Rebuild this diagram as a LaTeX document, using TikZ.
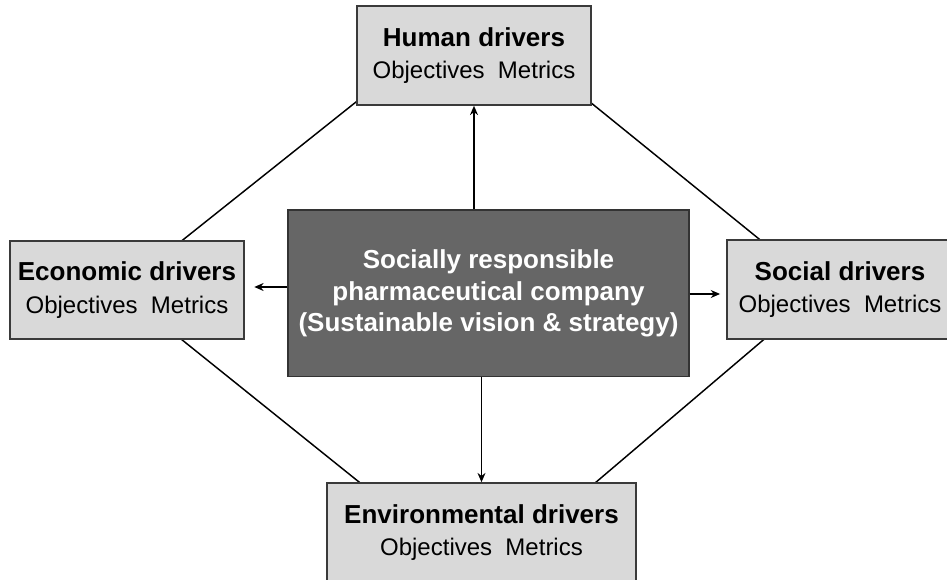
\documentclass[tikz,border=0pt]{standalone}
\usepackage{fontspec}
\setmainfont{Liberation Sans}
\usetikzlibrary{arrows.meta,backgrounds}
\definecolor{boxgray}{HTML}{D9D9D9}
\definecolor{coregray}{HTML}{666666}
\definecolor{edgegray}{HTML}{3A3A3A}
\begin{document}
\begin{tikzpicture}[
  x=0.75pt, y=-0.75pt,
  driver/.style={rectangle, draw=edgegray, line width=1.4pt, fill=boxgray,
    minimum height=74pt, inner sep=0pt, align=center,
    font=\fontsize{18}{24.5}\selectfont},
  core/.style={rectangle, draw=black!80, line width=1pt, fill=coregray,
    text=white, minimum width=300.75pt, minimum height=125pt, inner sep=0pt,
    align=center, font=\bfseries\fontsize{19.5}{23.8}\selectfont},
  link/.style={line width=1.1pt, -{Stealth[length=7pt,width=6pt]}},
  frame/.style={line width=1.1pt}
]
\useasboundingbox (0,0) rectangle (947,580);
\node[core] (core) at (488.5,293.5) {Socially responsible\\pharmaceutical company\\(Sustainable vision \& strategy)};
\node[driver, minimum width=175.5pt] (human) at (474,55.5) {{\bfseries\fontsize{19.5}{24.5}\selectfont Human drivers}\\Objectives\ \ Metrics};
\node[driver, minimum width=175.5pt] (econ) at (127,290) {{\bfseries\fontsize{19.5}{24.5}\selectfont Economic drivers}\\Objectives\ \ Metrics};
\node[driver, minimum width=169.5pt] (social) at (840,289.5) {{\bfseries\fontsize{19.5}{24.5}\selectfont Social drivers}\\Objectives\ \ Metrics};
\node[driver, minimum width=231.75pt] (env) at (481.5,532.5) {{\bfseries\fontsize{19.5}{24.5}\selectfont Environmental drivers}\\Objectives\ \ Metrics};
% frame behind the boxes
\coordinate (top) at (474,8);
\coordinate (left) at (120,290);
\coordinate (bottom) at (481,580);
\coordinate (right) at (822,290);
\begin{scope}[on background layer]
\draw[frame] (top) -- (left) -- (bottom) -- (right) -- cycle;
\end{scope}
% arrows out of the centre
\draw[link] (human.south |- core.north) -- (human.south);
\draw[link] (env.north |- core.south) -- (env.north);
\draw[link] (core.west |- 0,287) -- ([xshift=7pt]econ.east |- 0,287);
\draw[link] (core.east |- 0,294) -- ([xshift=-4.5pt]social.west |- 0,294);
\end{tikzpicture}
\end{document}
